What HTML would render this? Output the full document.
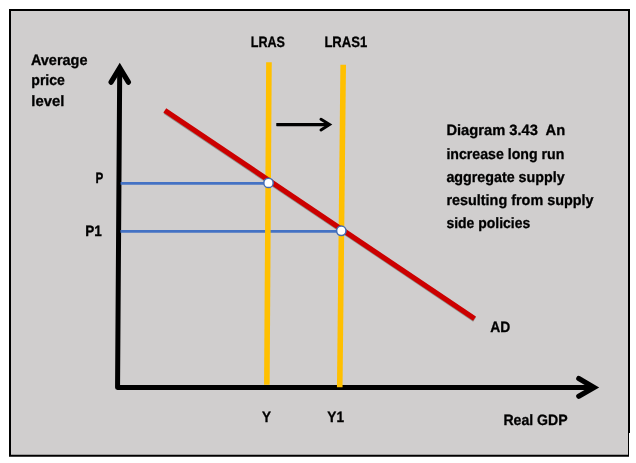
<!DOCTYPE html>
<html lang="en">
<head>
<meta charset="utf-8">
<title>Diagram 3.43 An increase long run aggregate supply resulting from supply side policies</title>
<style>
  html, body { margin: 0; padding: 0; background: #ffffff; }
  body { width: 636px; height: 463px; overflow: hidden; }
  svg { display: block; will-change: transform; }
  text { font-family: "Liberation Sans", Arial, sans-serif; font-weight: bold; font-size: 14.9px; text-rendering: geometricPrecision; fill: #000000; stroke: #000000; stroke-width: 0.3px; }
</style>
</head>
<body>
<svg width="636" height="463" viewBox="0 0 636 463">
  <rect x="0" y="0" width="636" height="463" fill="#ffffff"/>
  <!-- panel -->
  <rect x="10" y="10" width="619" height="445.75" fill="#d0cece" stroke="#000000" stroke-width="2"/>
  <!-- thinner lower part of right border -->
  <rect x="629" y="433" width="2.2" height="24" fill="#ffffff"/>

  <!-- axes -->
  <path d="M119.72 68 L117.55 387.4 L593.5 387.4" fill="none" stroke="#000000" stroke-width="5" stroke-linejoin="round"/>
  <path d="M111.1 82.2 L119.75 67.8 L128.4 82.2" fill="none" stroke="#000000" stroke-width="5.2" stroke-linecap="round" stroke-linejoin="miter" stroke-miterlimit="10"/>
  <path d="M578.8 378.6 L594 387.4 L578.8 396.2" fill="none" stroke="#000000" stroke-width="5.2" stroke-linecap="round" stroke-linejoin="miter" stroke-miterlimit="10"/>

  <!-- price guide lines -->
  <line x1="120.6" y1="183.3" x2="268" y2="183.3" stroke="#4472c4" stroke-width="2.8"/>
  <line x1="120.4" y1="231.3" x2="341" y2="231.3" stroke="#4472c4" stroke-width="2.8"/>

  <!-- LRAS lines -->
  <line x1="268.95" y1="62.2" x2="266.85" y2="384.8" stroke="#ffc000" stroke-width="5.6"/>
  <line x1="343.2" y1="64.8" x2="339.75" y2="387.2" stroke="#ffc000" stroke-width="5.6"/>

  <!-- AD line -->
  <line x1="165.1" y1="111.5" x2="474.6" y2="319.5" stroke="#3a3a2a" stroke-opacity="0.4" stroke-width="5.2"/>
  <line x1="164.8" y1="110.4" x2="474.5" y2="318.7" stroke="#cc0000" stroke-width="5.2"/>

  <!-- equilibrium points -->
  <circle cx="268.5" cy="182.9" r="4.7" fill="#ffffff" stroke="#426cb4" stroke-width="1.5"/>
  <circle cx="341.3" cy="230.8" r="4.7" fill="#ffffff" stroke="#426cb4" stroke-width="1.5"/>

  <!-- shift arrow -->
  <line x1="276.6" y1="125.6" x2="329" y2="125.6" stroke="#303030" stroke-opacity="0.35" stroke-width="3"/>
  <line x1="276.3" y1="124.6" x2="329" y2="124.6" stroke="#000000" stroke-width="3"/>
  <path d="M321 119.3 L329.5 124.6 L321 129.9" fill="none" stroke="#000000" stroke-width="3" stroke-linecap="round" stroke-linejoin="miter" stroke-miterlimit="10"/>

  <!-- labels -->
  <g>
  <text x="250.7" y="46.9" textLength="34.3" lengthAdjust="spacingAndGlyphs">LRAS</text>
  <text x="324.4" y="46.9" textLength="42.8" lengthAdjust="spacingAndGlyphs">LRAS1</text>

  <text x="30.9" y="64.6" textLength="56.6" lengthAdjust="spacingAndGlyphs">Average</text>
  <text x="31.3" y="85.4" textLength="33.6" lengthAdjust="spacingAndGlyphs">price</text>
  <text x="31.3" y="105.5" textLength="33" lengthAdjust="spacingAndGlyphs">level</text>

  <text x="95.4" y="182.9" textLength="7.8" lengthAdjust="spacingAndGlyphs">P</text>
  <text x="85.3" y="235.8" textLength="16.6" lengthAdjust="spacingAndGlyphs">P1</text>

  <text x="261.9" y="421.8" textLength="9" lengthAdjust="spacingAndGlyphs">Y</text>
  <text x="327.3" y="421.8" textLength="16.7" lengthAdjust="spacingAndGlyphs">Y1</text>

  <text x="490.2" y="331.7" textLength="20" lengthAdjust="spacingAndGlyphs">AD</text>
  <text x="503.4" y="424.7" textLength="64.2" lengthAdjust="spacingAndGlyphs">Real GDP</text>

  <text x="446.4" y="134.8" textLength="118.8" lengthAdjust="spacingAndGlyphs" style="white-space: pre">Diagram 3.43  An</text>
  <text x="446.4" y="158.6" textLength="118" lengthAdjust="spacingAndGlyphs">increase long run</text>
  <text x="446.4" y="181.6" textLength="118.2" lengthAdjust="spacingAndGlyphs">aggregate supply</text>
  <text x="446.4" y="205" textLength="147.2" lengthAdjust="spacingAndGlyphs">resulting from supply</text>
  <text x="446.4" y="228.1" textLength="83.8" lengthAdjust="spacingAndGlyphs">side policies</text>
  </g>
</svg>
</body>
</html>
